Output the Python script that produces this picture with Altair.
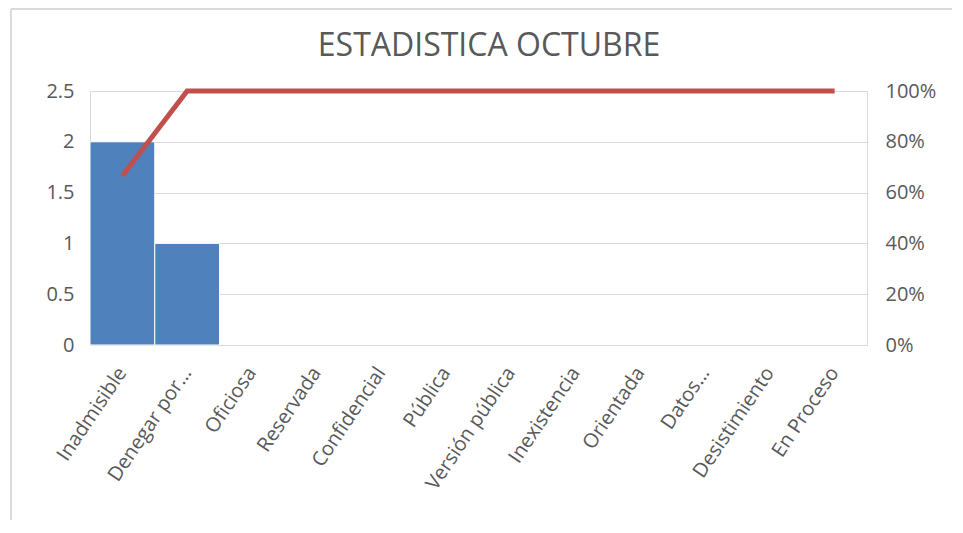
import altair as alt
import pandas as pd

categories = ["Inadmisible", "Denegar por…", "Oficiosa", "Reservada", "Confidencial",
              "Pública", "Versión pública", "Inexistencia", "Orientada", "Datos…",
              "Desistimiento", "En Proceso"]
counts = [2, 1, 0, 0, 0, 0, 0, 0, 0, 0, 0, 0]
cum_pct = [0.6667, 1.0, 1.0, 1.0, 1.0, 1.0, 1.0, 1.0, 1.0, 1.0, 1.0, 1.0]
title_text = ["ESTADISTICA OCTUBRE"]

df = pd.DataFrame({"cat": categories, "count": counts, "pct": cum_pct})

FONT = "Open Sans"
GRAY = "#595959"
GRID = "#D9D9D9"

xenc = alt.X("cat:N", sort=categories,
             scale=alt.Scale(paddingInner=0, paddingOuter=0),
             axis=alt.Axis(title=None, labelAngle=-56, labelAlign="right",
                           labelBaseline="middle", labelFontSize=20, labelColor=GRAY,
                           labelFont=FONT, ticks=False, domainColor=GRID,
                           labelPadding=24, labelLimit=300))

bars = alt.Chart(df).transform_filter("datum.count > 0").mark_bar(
    color="#4F81BD", stroke="white", strokeWidth=1
).encode(
    x=xenc,
    y=alt.Y("count:Q", scale=alt.Scale(domain=[0, 2.5]),
            axis=alt.Axis(title=None, values=[0, 0.5, 1, 1.5, 2, 2.5], format="~g",
                          grid=True, gridColor=GRID, ticks=False, domainColor=GRID,
                          labelFontSize=20, labelColor=GRAY, labelFont=FONT,
                          labelPadding=16)),
)

line = alt.Chart(df).mark_line(color="#C0504D", strokeWidth=5).encode(
    x=alt.X("cat:N", sort=categories),
    y=alt.Y("pct:Q", scale=alt.Scale(domain=[0, 1]),
            axis=alt.Axis(title=None, orient="right", format=".0%",
                          values=[0, 0.2, 0.4, 0.6, 0.8, 1.0], grid=False,
                          ticks=False, domainColor=GRID, labelFontSize=20,
                          labelColor=GRAY, labelFont=FONT, labelPadding=18)),
)

border = alt.Chart(df).mark_rect(fill=None, stroke=GRID, strokeWidth=1).encode(
    x=alt.value(-79), x2=alt.value(880), y=alt.value(-82), y2=alt.value(440)
)

title = alt.Chart(pd.DataFrame({"t": title_text})).mark_text(
    font=FONT, fontSize=32, color=GRAY, align="center", baseline="middle"
).encode(text="t:N", x=alt.value(399), y=alt.value(-45))

chart = alt.layer(border, bars, line, title).resolve_scale(y="independent").properties(
    width=777, height=254,
    autosize=alt.AutoSizeParams(type="none"),
    padding={"left": 82, "top": 83, "right": 85, "bottom": 175},
).configure_view(stroke=None).configure(background="white")

chart.save("out.html", embed_options={"renderer": "svg", "actions": False})
